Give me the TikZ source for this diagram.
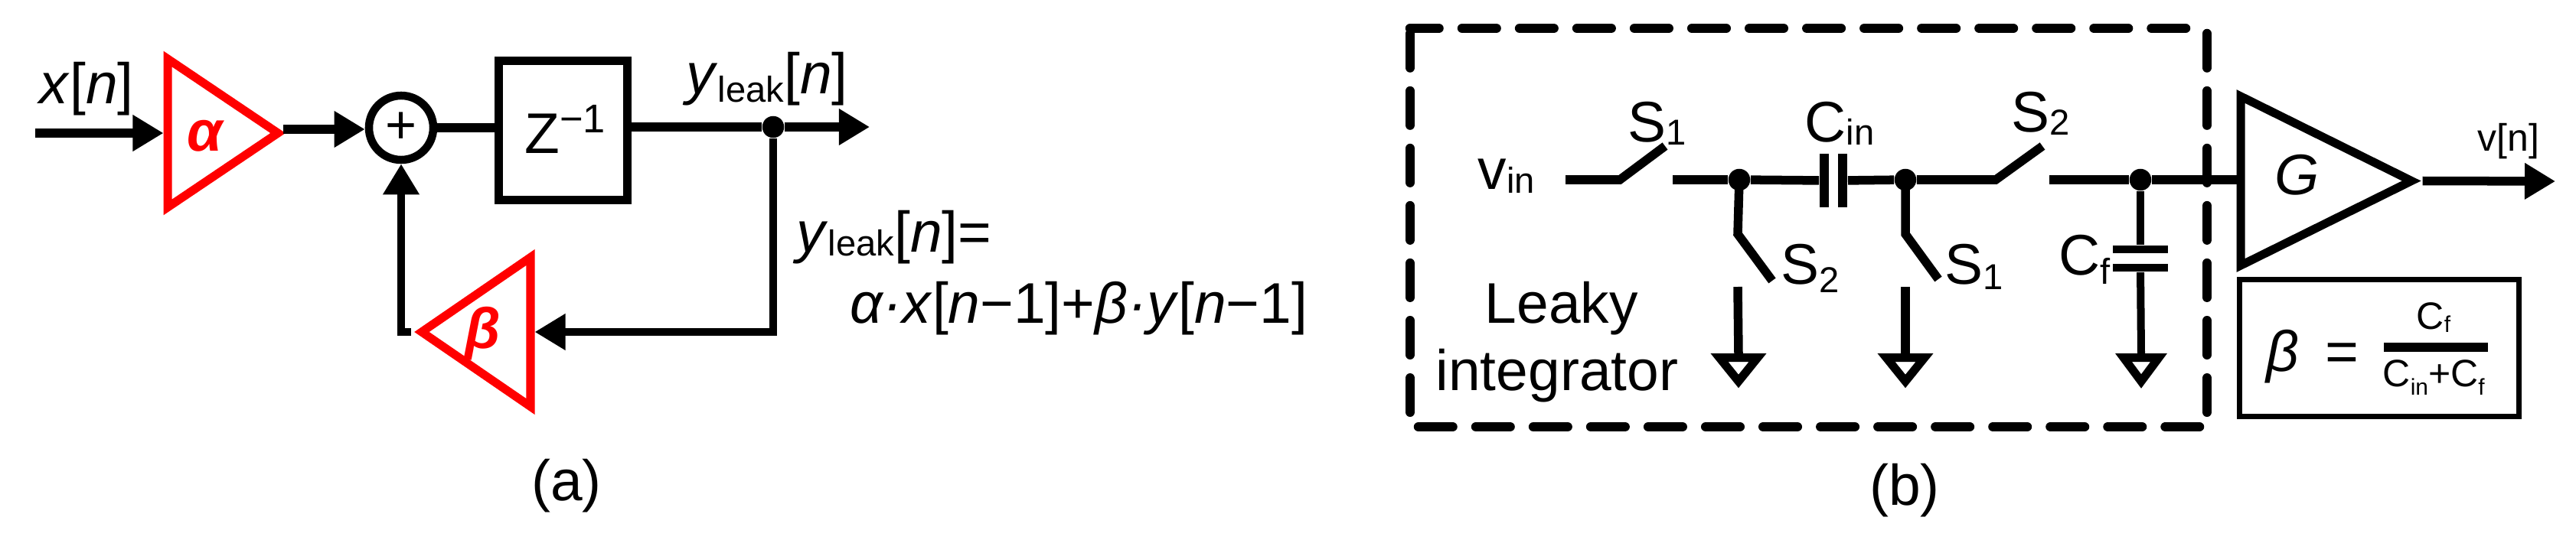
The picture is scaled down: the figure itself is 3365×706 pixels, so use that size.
\documentclass[tikz,border=0pt]{standalone}
\usepackage{fontspec}
\setmainfont{Liberation Sans}
\usepackage{tikz}
\usetikzlibrary{shapes.geometric,arrows.meta}
\definecolor{gainred}{RGB}{255,0,0}
\newcommand{\subtxt}[2]{\raisebox{-#1}{\fontsize{13.4}{14}\selectfont #2}}
\newcommand{\tinysub}[2]{\raisebox{-#1}{\fontsize{8.5}{9}\selectfont #2}}
\tikzset{
    gain/.style={draw, isosceles triangle, isosceles triangle stretches, line width=0.11cm, inner sep=0pt, anchor=lower side},
    gainR/.style={gain, draw=gainred},
    gnd/.style={draw, isosceles triangle, isosceles triangle stretches, shape border rotate=-90, line width=0.11cm,
                minimum width=0.5cm, minimum height=0.31cm, inner sep=0pt, anchor=lower side},
    sum/.style={draw, circle, line width=0.105cm, minimum size=0.84cm, inner sep=0pt, font=\fontsize{20}{20}\selectfont},
    delay/.style={draw, line width=0.11cm, minimum width=1.68cm, minimum height=1.82cm, inner sep=0pt},
    dot/.style={fill, circle, minimum size=0.285cm, inner sep=0pt},
    plateV/.style={fill, minimum width=0.125cm, minimum height=0.7cm, inner sep=0pt},
    plateH/.style={fill, minimum width=0.72cm, minimum height=0.105cm, inner sep=0pt},
    fbar/.style={fill, minimum width=1.36cm, minimum height=0.12cm, inner sep=0pt},
    betabox/.style={draw, line width=0.07cm, minimum width=3.64cm, minimum height=1.78cm, inner sep=0pt},
    wire/.style={line width=0.115cm},
    thinwire/.style={line width=0.1cm},
    sig/.style={wire, -{Triangle[length=4mm,width=4.5mm]}},
    thinsig/.style={thinwire, -{Triangle[length=4mm,width=4.5mm]}},
    dashbox/.style={line width=0.125cm, line cap=round, dash pattern=on 0.445cm off 0.305cm},
    txt/.style={inner sep=0pt, anchor=base west, font=\fontsize{21.3}{25}\selectfont},
    smalltxt/.style={txt, font=\fontsize{14.2}{16}\selectfont},
    gaintxt/.style={inner sep=0pt, text=gainred, font=\fontsize{21.3}{25}\selectfont\bfseries\itshape},
}
\begin{document}
\begin{tikzpicture}[x=0.01cm,y=-0.01cm]
    \useasboundingbox (0,0) rectangle (3365,706);

    % Leaky integrator model
    \coordinate (xin) at (46,174);
    \node[gainR, minimum width=1.94cm, minimum height=1.44cm] (alpha) at (213.5,174) {};
    \node[gaintxt] (alphatxt) at (268,178) {α};
    \coordinate (aout) at (370,169);
    \node[sum] (add) at (524,167) {+};
    \node[delay] (zinv) at (735.5,170.5) {\hspace*{2pt}\raisebox{1pt}{\fontsize{21.3}{25}\selectfont Z\textsuperscript{−1}}};
    \node[dot] (tap) at (1010,166) {};
    \coordinate (yout) at (1136,166);
    \node[gainR, minimum width=1.95cm, minimum height=1.42cm, shape border rotate=180] (beta) at (698.5,434) {};
    \node[gaintxt] (betatxt) at (631,436) {β};

    % Signal path
    \draw[sig] (xin) -- (alpha.lower side);
    \draw[sig] (aout) -- (aout -| add.west);
    \draw[wire] (add.east) -- (zinv.west |- add);
    \draw[wire] (zinv.east |- tap) -- (tap);
    \draw[sig] (tap) -- (yout);
    \draw[thinsig] (beta.apex) -| (add.south);
    \draw[sig, thinwire] (tap.south) |- (beta.lower side);

    % Labels
    \node[txt] (xlab) at (51,135) {\textit{x}[\textit{n}]};
    \node[txt] (ylab) at (896,122) {\textit{y}\subtxt{3.4pt}{leak}[\textit{n}]};
    \node[txt] (eqa) at (1040,329) {\textit{y}\subtxt{1.5pt}{leak}[\textit{n}]=};
    \node[txt] (eqb) at (1110,422) {\textit{α·x}[\textit{n}−1]+\textit{β·y}[\textit{n}−1]};
    \node[txt, anchor=center] (capa) at (740,635) {(a)};

    % Dashed frame
    \draw[dashbox, dash phase=0.07cm] (1842,37) -- (2855,37);
    \draw[dashbox] (1842,44) -- (1842,551);
    \draw[dashbox] (2883,44) -- (2883,551);
    \draw[dashbox] (1853,558) -- (2873,558);

    % Switched capacitor circuit
    \node[dot] (n1) at (2272,235) {};
    \node[dot] (n2) at (2489,235) {};
    \node[dot] (n3) at (2796,235) {};
    \node[plateV] (cinL) at (2383,236) {};
    \node[plateV] (cinR) at (2407,236) {};
    \node[plateH] (cfT) at (2796,326) {};
    \node[plateH] (cfB) at (2796,350) {};
    \node[gnd] (g1) at (2271,462) {};
    \node[gnd] (g2) at (2489,462) {};
    \node[gnd, minimum width=0.46cm] (g3) at (2797,462) {};
    \node[gain, minimum width=2.21cm, minimum height=2.23cm] (amp) at (2921.5,236.5) {};
    \coordinate (vout) at (3338,237);

    % S1 series switch
    \draw[wire] (2045,235) -- (2116,235) -- (2175,191);
    \draw[wire] (2185,235) -- (n1);
    \draw[wire] (n1) -- (cinL);
    \draw[wire] (cinR) -- (n2);
    % S2 series switch
    \draw[wire] (n2) -- (2607,235) -- (2668,191);
    \draw[wire] (2677,235) -- (n3);
    \draw[wire] (n3) -- (amp.lower side |- n3);
    % shunt switches
    \draw[wire] (n1.center) -- (2270,306) -- (2315,367);
    \draw[wire] (2270,375) -- (g1.lower side);
    \draw[wire] (n2.center) -- (2489,306) -- (2532,365);
    \draw[wire] (2489,375) -- (g2.lower side);
    % feedback cap
    \draw[thinwire] (n3) -- (cfT);
    \draw[thinwire] (cfB) -- (g3.lower side);
    % amp output
    \draw[sig] (amp.apex) -- (vout);

    % Circuit labels
    \node[txt] (vinlab) at (1930,247) {v\subtxt{1.7pt}{in}};
    \node[txt] (s1a) at (2126,185) {S\subtxt{1.4pt}{1}};
    \node[txt] (cin) at (2357,185) {C\subtxt{1.4pt}{in}};
    \node[txt] (s2a) at (2627,172) {S\subtxt{1.4pt}{2}};
    \node[txt] (s2b) at (2326,371) {S\subtxt{3.4pt}{2}};
    \node[txt] (s1b) at (2540,371) {S\subtxt{2pt}{1}};
    \node[txt] (cf) at (2689,359) {C\subtxt{3.6pt}{f}};
    \node[txt] (leaky) at (1939,422) {Leaky};
    \node[txt] (integ) at (1875,510) {integrator};
    \node[txt] (glab) at (2971,254) {\textit{G}};
    \node[smalltxt] (vnlab) at (3236,197) {v[n]};
    \node[txt, anchor=center] (capb) at (2488,641) {(b)};

    % Beta formula
    \node[betabox] (bbox) at (3108,455) {};
    \node[fbar] (bar) at (3182,454) {};
    \node[txt] (betaeq) at (2960,485) {\textit{β}};
    \node[txt] (eqsign) at (3036,485) {\textit{=}};
    \node[smalltxt] (fnum) at (3156,430) {C\tinysub{1.3pt}{f}};
    \node[smalltxt] (fden) at (3112,505) {C\tinysub{3.4pt}{in}+C\tinysub{3.4pt}{f}};
\end{tikzpicture}
\end{document}
